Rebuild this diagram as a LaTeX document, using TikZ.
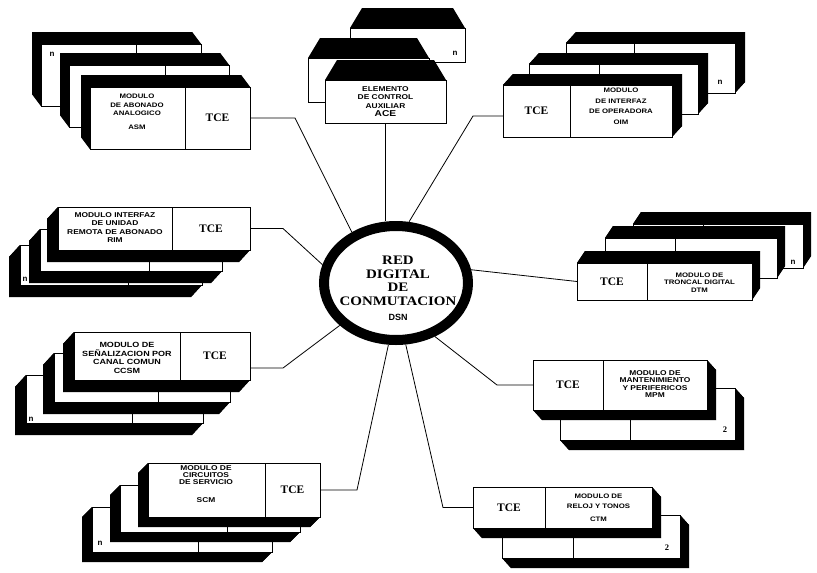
\documentclass[tikz,border=0pt]{standalone}
\usepackage{fontspec}
\setmainfont{Liberation Serif}
\setsansfont{Liberation Sans}
\newfontfamily\modfont[FakeStretch=1.2]{Liberation Sans}
\newfontfamily\dsnserif[FakeStretch=1.15]{Liberation Serif}
\usetikzlibrary{shapes.geometric, calc}
\tikzset{
    tcebox/.style={inner sep=0pt, outer sep=0pt, font=\bfseries\fontsize{11.5}{12}\selectfont},
    modtxt/.style={inner sep=0pt, align=center, font=\modfont\bfseries\fontsize{#1}{8.5}\selectfont},
    modtxt/.default=7,
    wire/.style={line width=0.8pt}
}
% one card of a module: x0, y0, x1, y1, depth x, depth y, divider x
\newcommand{\modcard}[7]{%
  \fill[black] ({#1+(#5)},{#2+(#6)}) rectangle ({#3+(#5)},{#4+(#6)});
  \fill[black] (#1,#2) -- (#3,#2) -- ({#3+(#5)},{#2+(#6)}) -- ({#1+(#5)},{#2+(#6)}) -- cycle;
  \fill[black] (#1,#4) -- (#3,#4) -- ({#3+(#5)},{#4+(#6)}) -- ({#1+(#5)},{#4+(#6)}) -- cycle;
  \fill[black] (#1,#2) -- (#1,#4) -- ({#1+(#5)},{#4+(#6)}) -- ({#1+(#5)},{#2+(#6)}) -- cycle;
  \fill[black] (#3,#2) -- (#3,#4) -- ({#3+(#5)},{#4+(#6)}) -- ({#3+(#5)},{#2+(#6)}) -- cycle;
  \filldraw[fill=white] (#1,#2) rectangle (#3,#4);
  \draw (#7,#2) -- (#7,#4);
}
% card with a roof: x0, y0, x1, y1, roof height
\newcommand{\roofcard}[5]{%
  \fill[black] (#1,#2) -- ({#1+12},{#2-(#5)}) -- ({#3-12},{#2-(#5)}) -- (#3,#2) -- cycle;
  \filldraw[fill=white] (#1,#2) rectangle (#3,#4);
}

\begin{document}
\begin{tikzpicture}[
    x=1pt, y=-1pt,
    line width=0.8pt,
    ring/.style={draw, ellipse, line width=10pt, minimum width=144pt, minimum height=114pt, inner sep=0pt},
    nlabel/.style={inner sep=0pt, font=\sffamily\bfseries\fontsize{8}{9}\selectfont},
    twolabel/.style={inner sep=0pt, font=\bfseries\fontsize{8.5}{9}\selectfont},
    dsnfont/.style={inner sep=0pt, align=center, font=\dsnserif\bfseries\fontsize{13}{13.5}\selectfont}
]
    \fill[white] (0,0) rectangle (817,573);
    \useasboundingbox (0,0) rectangle (817,573);

    % ASM
    \modcard{41}{44}{201}{106}{-9}{-12}{136}
    \node[nlabel] (asmn) at (52,54) {n};
    \modcard{69}{65}{229}{127}{-9}{-12}{165}
    \modcard{90}{87}{250}{149}{-9}{-12}{185}
    \node[modtxt=6.5] (asm) at (137,112) {MODULO\\DE ABONADO\\ANALOGICO\\[5pt]ASM};
    \node[tcebox, minimum width=65pt, minimum height=62pt] (asmtce) at (217.5,118) {TCE};

    % ACE
    \roofcard{350}{28}{465}{62}{20}
    \node[nlabel] (acen) at (455,53) {n};
    \roofcard{308}{58}{429}{102}{20}
    \roofcard{325}{80}{446}{123}{20}
    \node[modtxt=7, minimum width=121pt, minimum height=43pt] (ace) at (385.5,101.5) {ELEMENTO\\DE CONTROL\\AUXILIAR\\{\fontsize{8.5}{9}\selectfont ACE}};

    % OIM
    \modcard{566}{43}{735}{93}{10}{-11}{634}
    \node[nlabel] (oimn) at (720,82) {n};
    \modcard{529}{64}{698}{114}{10}{-11}{599}
    \modcard{503}{85}{672}{137}{10}{-11}{570}
    \node[modtxt=6.5] (oim) at (621,106.5) {MODULO\\[2pt]DE INTERFAZ\\[2pt]DE OPERADORA\\[2pt]OIM};
    \node[tcebox, minimum width=67pt, minimum height=52pt] (oimtce) at (536.5,111) {TCE};

    % RIM
    \modcard{20}{245}{202}{285}{-11}{12}{128}
    \node[nlabel] (rimn) at (25,279) {n};
    \modcard{40}{229}{222}{271}{-11}{12}{149}
    \modcard{58}{207}{250}{250}{-11}{12}{172}
    \node[modtxt=7] (rim) at (115,227.5) {MODULO INTERFAZ\\DE UNIDAD\\REMOTA DE ABONADO\\RIM};
    \node[tcebox, minimum width=78pt, minimum height=43pt] (rimtce) at (211,228.5) {TCE};

    % CCSM
    \modcard{26}{375}{203}{423}{-11}{12}{132}
    \node[nlabel] (ccsmn) at (31,419) {n};
    \modcard{54}{353}{230}{402}{-11}{12}{158}
    \modcard{74}{332}{250}{380}{-11}{12}{180}
    \node[modtxt=7.5] (ccsm) at (127,358) {MODULO DE\\SEÑALIZACION POR\\CANAL COMUN\\CCSM};
    \node[tcebox, minimum width=70pt, minimum height=48pt] (ccsmtce) at (215,356) {TCE};

    % SCM
    \modcard{92}{507}{272}{552}{-10}{10}{198}
    \node[nlabel] (scmn) at (100,543) {n};
    \modcard{120}{485}{300}{532}{-10}{10}{227}
    \modcard{148}{463}{320}{517}{-10}{10}{265}
    \node[modtxt=7] (scm) at (206,484) {MODULO DE\\[-1.5pt]CIRCUITOS\\[-1.5pt]DE SERVICIO\\[9pt]SCM};
    \node[tcebox, minimum width=55pt, minimum height=54pt] (scmtce) at (292.5,490) {TCE};

    % DTM
    \modcard{633}{224}{803}{268}{8}{-12}{703}
    \node[nlabel] (dtmn) at (793,262) {n};
    \modcard{605}{238}{777}{278}{8}{-12}{675}
    \modcard{577}{263}{752}{300}{8}{-12}{647}
    \node[modtxt=6.5] (dtm) at (699.5,283) {MODULO DE\\[-2pt]TRONCAL DIGITAL\\DTM};
    \node[tcebox, minimum width=70pt, minimum height=37pt] (dtmtce) at (612,281.5) {TCE};

    % MPM
    \modcard{560}{388}{735}{440}{9}{10}{630}
    \node[twolabel] (mpmn) at (725,430) {2};
    \modcard{533}{360}{707}{410}{9}{10}{603}
    \node[modtxt=7] (mpm) at (655,384) {MODULO DE\\[-1pt]MANTENIMIENTO\\[-1pt]Y PERIFERICOS\\[-1pt]MPM};
    \node[tcebox, minimum width=70pt, minimum height=50pt] (mpmtce) at (568,385) {TCE};

    % CTM
    \modcard{502}{515}{680}{558}{9}{10}{573}
    \node[twolabel] (ctmn) at (667,548) {2};
    \modcard{473}{487}{652}{528}{9}{10}{545}
    \node[modtxt=6.5] (ctm) at (598.5,508) {MODULO DE\\[1.5pt]RELOJ Y TONOS\\[4pt]CTM};
    \node[tcebox, minimum width=72pt, minimum height=41pt] (ctmtce) at (509,507.5) {TCE};

    % DSN
    \node[ring] (dsn) at (396,283) {};
    \node[dsnfont, anchor=north] (dsntxt) at (398,256) {RED\\DIGITAL\\DE\\CONMUTACION\\[2pt]{\sffamily\fontsize{9}{10}\selectfont DSN}};

    % links to the network
    \draw[wire] (asmtce.east) -- ++(45,0) -- (dsn.131);
    \draw[wire] (ace.south) -- (ace.south |- dsn.north);
    \draw[wire] ([yshift=-5pt]oimtce.west) -- ++(-30,0) -- (dsn.78);
    \draw[wire] (rimtce.east) -- ++(33,0) -- (dsn.166);
    \draw[wire] (dtmtce.west) -- (dsn.10);
    \draw[wire] ([yshift=-12pt]ccsmtce.east) -- ++(33,0) -- (dsn.217);
    \draw[wire] (mpmtce.west) -- ++(-36,0) -- (dsn.306);
    \draw[wire] (scmtce.east) -- ++(37,0) -- (dsn.263);
    \draw[wire] (ctmtce.west) -- ++(-30,0) -- (dsn.279);

\end{tikzpicture}
\end{document}
